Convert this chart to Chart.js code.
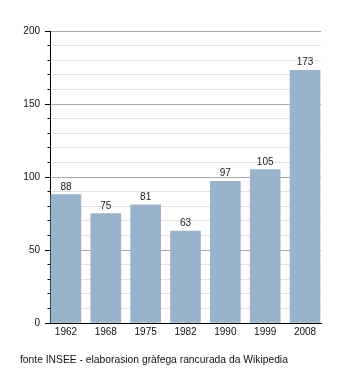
<!DOCTYPE html>
<html>
<head>
<meta charset="utf-8">
<script src="https://cdn.jsdelivr.net/npm/chart.js@4/dist/chart.umd.min.js"></script>
<style>
  html, body { margin: 0; padding: 0; background: #fff; }
  #wrap { position: relative; width: 350px; height: 373px; }
  #note {
    position: absolute; left: 20px; top: 354px;
    font: 10.3px "Liberation Sans", Arial, sans-serif; color: #111;
    white-space: nowrap;
  }
</style>
</head>
<body>
<div id="wrap">
  <canvas id="c" width="350" height="373"></canvas>
  <div id="note">fonte INSEE - elaborasion gràfega rancurada da Wikipedia</div>
</div>
<script>
// Population by census year
const years = ['1962', '1968', '1975', '1982', '1990', '1999', '2008'];
const population = [88, 75, 81, 63, 97, 105, 173];
const yTickLabels = [0, 50, 100, 150, 200];

const FONT = '"Liberation Sans", Arial, sans-serif';
const barColor = '#9ab3cd';

// Writes each value above its bar
const valueLabels = {
  id: 'valueLabels',
  afterDatasetsDraw(chart) {
    const ctx = chart.ctx;
    const meta = chart.getDatasetMeta(0);
    ctx.save();
    ctx.font = '10px ' + FONT;
    ctx.fillStyle = '#222';
    ctx.textAlign = 'center';
    ctx.textBaseline = 'alphabetic';
    meta.data.forEach((bar, i) => {
      ctx.fillText(String(population[i]), bar.x, bar.y - 5);
    });
    ctx.restore();
  }
};

new Chart(document.getElementById('c'), {
  type: 'bar',
  data: {
    datasets: [{
      data: population.map((v, i) => ({ x: i, y: v })),
      backgroundColor: barColor,
      borderWidth: 0,
      barThickness: 30
    }]
  },
  options: {
    responsive: false,
    animation: false,
    layout: { padding: { left: 0, top: 31, right: 29, bottom: 0 } },
    plugins: {
      legend: { display: false },
      tooltip: { enabled: false }
    },
    scales: {
      x: {
        type: 'linear',
        offset: false,
        min: -0.4,
        max: 6.4,
        afterBuildTicks(scale) {
          scale.ticks = years.map((_, i) => ({ value: i }));
        },
        afterFit(scale) { scale.height = 50; },
        grid: { display: false, drawTicks: false, tickLength: 0 },
        border: { display: true, color: '#000', width: 1 },
        ticks: {
          autoSkip: false,
          maxRotation: 0,
          padding: 3,
          color: '#111',
          font: { family: FONT, size: 10 },
          callback: (v) => years[v]
        }
      },
      y: {
        min: 0,
        max: 200,
        afterBuildTicks(scale) {
          const t = [];
          for (let v = 0; v <= 200; v += 10) t.push({ value: v });
          scale.ticks = t;
        },
        afterFit(scale) { scale.width = 50; },
        border: { display: true, color: '#000', width: 1 },
        grid: {
          drawTicks: true,
          tickLength: 5,
          color: (c) => (c.tick && c.tick.value % 50 === 0) ? '#aaaaaa' : '#e2e2e2',
          tickColor: '#000',
          tickBorderDash: (c) => (c.tick && c.tick.value % 50 === 0) ? [] : [2.5, 2.5],
          tickBorderDashOffset: (c) => (c.tick && c.tick.value % 50 === 0) ? 0 : 2.5
        },
        ticks: {
          autoSkip: false,
          padding: 5,
          color: '#111',
          font: { family: FONT, size: 10 },
          callback: (v) => yTickLabels.includes(v) ? String(v) : ''
        }
      }
    }
  },
  plugins: [valueLabels]
});
</script>
</body>
</html>
